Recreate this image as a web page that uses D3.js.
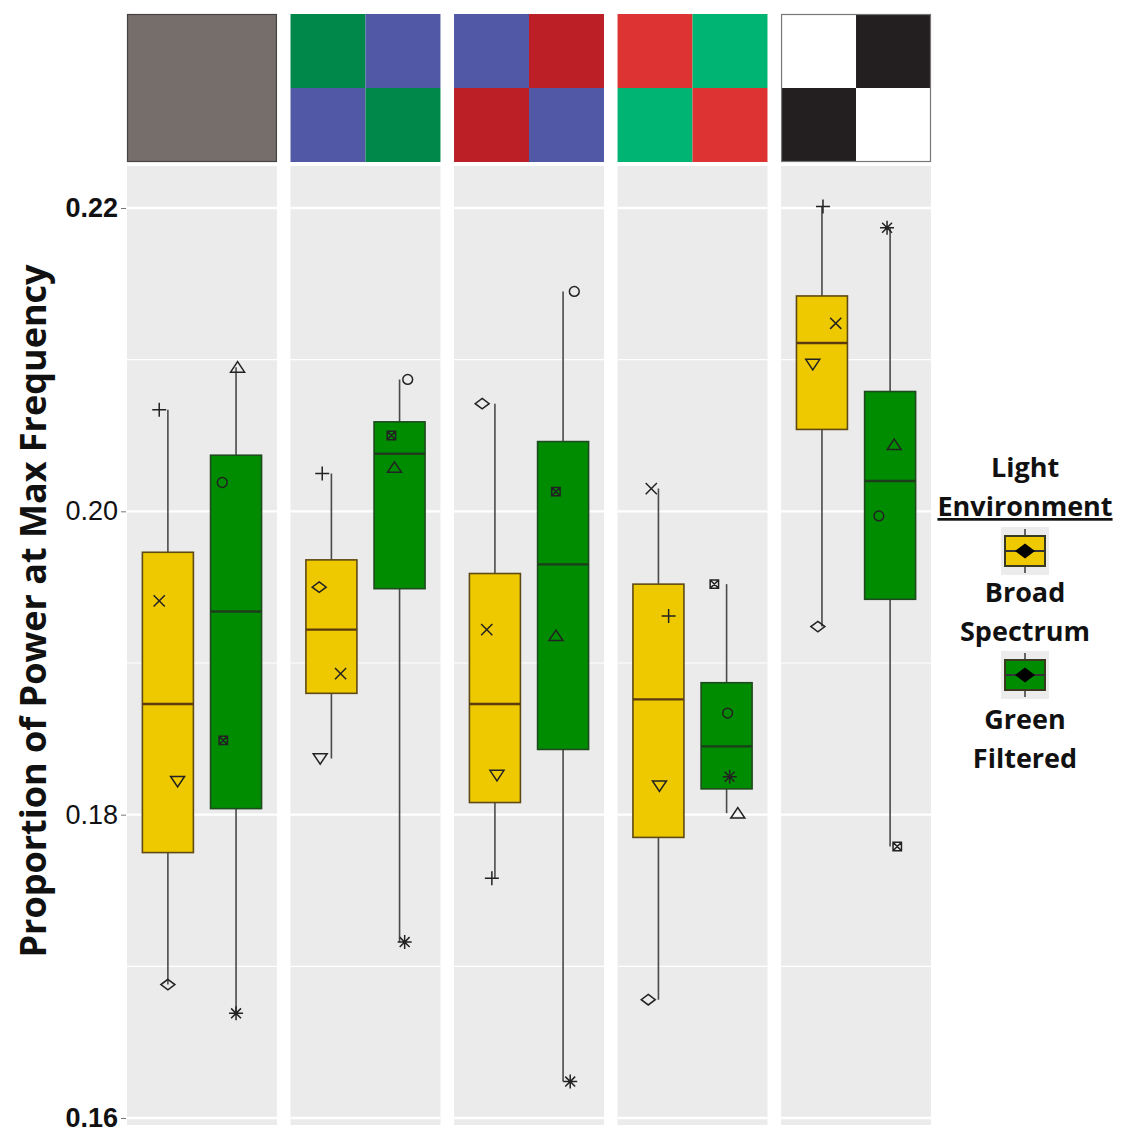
<!DOCTYPE html>
<html>
<head>
<meta charset="utf-8">
<script src="https://cdn.jsdelivr.net/npm/d3@7"></script>
<style>
  body { margin: 0; background: #fff; }
  svg { display: block; font-family: "Open Sans", "Noto Sans", sans-serif; }
</style>
</head>
<body>
<svg id="chart" width="1126" height="1133"></svg>
<script>
// panels (light patterns) and groups
const panels = ['Gray', 'GreenBlue', 'BlueRed', 'RedGreen', 'BlackWhite'];
const groups = ['Broad Spectrum', 'Green Filtered'];

// patch colours shown above each panel: [topLeft, topRight, bottomLeft, bottomRight]
const patchColors = [
  ['#766e6b', '#766e6b', '#766e6b', '#766e6b'],
  ['#00874a', '#5158a6', '#5158a6', '#00874a'],
  ['#5158a6', '#bc1f26', '#bc1f26', '#5158a6'],
  ['#dd3333', '#00b473', '#00b473', '#dd3333'],
  ['#ffffff', '#231f20', '#231f20', '#ffffff']
];

// box stats per panel: [lower whisker, q1, median, q3, upper whisker]
const broadStats = [
  [0.1688, 0.1775, 0.1873, 0.1973, 0.2067],
  [0.1837, 0.1880, 0.1922, 0.1968, 0.2025],
  [0.1758, 0.1808, 0.1873, 0.1959, 0.2071],
  [0.1678, 0.1785, 0.1876, 0.1952, 0.2015],
  [0.1924, 0.2054, 0.2111, 0.2142, 0.2201]
];
const greenStats = [
  [0.1669, 0.1804, 0.1934, 0.2037, 0.2095],
  [0.1716, 0.1949, 0.2038, 0.2059, 0.2087],
  [0.1624, 0.1843, 0.1965, 0.2046, 0.2145],
  [0.1801, 0.1817, 0.1845, 0.1887, 0.1952],
  [0.1779, 0.1942, 0.2020, 0.2079, 0.2187]
];

// individual animals; broad order: plus, cross, triangle-down, diamond
const broadShapes = ['plus', 'cross', 'triDown', 'diamond'];
const broadPoints = [
  [0.2067, 0.1941, 0.1822, 0.1688],
  [0.2025, 0.1893, 0.1837, 0.1950],
  [0.1758, 0.1922, 0.1826, 0.2071],
  [0.1931, 0.2015, 0.1819, 0.1678],
  [0.2201, 0.2124, 0.2097, 0.1924]
];
const broadJitter = [
  [-0.17, -0.17, 0.19, 0.0],
  [-0.18, 0.18, -0.22, -0.24],
  [-0.06, -0.16, 0.04, -0.25],
  [0.2, -0.14, 0.02, -0.2],
  [0.02, 0.27, -0.18, -0.08]
];
// green order: triangle-up, circle, square-cross, asterisk
const greenShapes = ['triUp', 'circle', 'squareX', 'star'];
const greenPoints = [
  [0.2095, 0.2019, 0.1849, 0.1669],
  [0.2029, 0.2087, 0.2050, 0.1716],
  [0.1918, 0.2145, 0.2013, 0.1624],
  [0.1801, 0.1867, 0.1952, 0.1825],
  [0.2044, 0.1997, 0.1779, 0.2187]
];
const greenJitter = [
  [0.03, -0.27, -0.25, 0.0],
  [-0.1, 0.16, -0.16, 0.1],
  [-0.14, 0.22, -0.14, 0.14],
  [0.22, 0.02, -0.24, 0.06],
  [0.08, -0.22, 0.14, -0.06]
];

const yTicks = [0.16, 0.18, 0.20, 0.22];
const yMinor = [0.17, 0.19, 0.21];
const yLabel = 'Proportion of Power at Max Frequency';

const colors = { 'Broad Spectrum': '#efc900', 'Green Filtered': '#008c00' };

const svg = d3.select('#chart');

const plotTop = 166, plotBottom = 1125;
const y = d3.scaleLinear().domain([0.16, 0.22]).range([1118, 208]);

const xPanel = d3.scaleBand().domain(panels).range([127, 931]).paddingInner(0.083);
const xGroup = d3.scalePoint().domain(groups).range([0, xPanel.bandwidth()]).padding(0.6);
const boxW = 51;
const jit = d3.scaleLinear().domain([-1, 1]).range([-boxW, boxW]);

// marker shapes
function shapePath(type, s) {
  const h = s / 2;
  switch (type) {
    case 'plus': return `M${-h},0H${h}M0,${-h}V${h}`;
    case 'cross': return `M${-h*0.8},${-h*0.8}L${h*0.8},${h*0.8}M${-h*0.8},${h*0.8}L${h*0.8},${-h*0.8}`;
    case 'triDown': return `M${-h},${-h*0.7}H${h}L0,${h*0.8}Z`;
    case 'triUp': return `M${-h},${h*0.7}H${h}L0,${-h*0.8}Z`;
    case 'diamond': return `M0,${-h*0.75}L${h},0L0,${h*0.75}L${-h},0Z`;
    case 'circle': return d3.arc()({ innerRadius: 0, outerRadius: h*0.7, startAngle: 0, endAngle: 2*Math.PI });
    case 'squareX': {
      const q = h * 0.6;
      return `M${-q},${-q}H${q}V${q}H${-q}ZM${-q},${-q}L${q},${q}M${-q},${q}L${q},${-q}`;
    }
    case 'star': {
      let p = '';
      for (let i = 0; i < 4; i++) {
        const a = i * Math.PI / 4;
        p += `M${-h*Math.cos(a)},${-h*Math.sin(a)}L${h*Math.cos(a)},${h*Math.sin(a)}`;
      }
      return p;
    }
  }
}

// panel backgrounds + grid
const panelG = svg.selectAll('g.panel')
  .data(panels)
  .enter().append('g')
    .attr('class', 'panel')
    .attr('transform', d => `translate(${xPanel(d)},0)`);

panelG.append('rect')
  .attr('y', plotTop)
  .attr('width', xPanel.bandwidth())
  .attr('height', plotBottom - plotTop)
  .attr('fill', '#ebebeb');

panelG.selectAll('line.minor')
  .data(yMinor)
  .enter().append('line')
    .attr('x2', xPanel.bandwidth())
    .attr('y1', d => y(d)).attr('y2', d => y(d))
    .attr('stroke', '#fff').attr('stroke-width', 1.2);

panelG.selectAll('line.major')
  .data(yTicks)
  .enter().append('line')
    .attr('x2', xPanel.bandwidth())
    .attr('y1', d => y(d)).attr('y2', d => y(d))
    .attr('stroke', '#fff').attr('stroke-width', 2.4);

// colour patches on top
const tileTop = 14, tileH = 148;
panelG.each(function(p, i) {
  const g = d3.select(this);
  const w = xPanel.bandwidth();
  const cells = patchColors[i].map((c, k) => ({ c, col: k % 2, row: Math.floor(k / 2) }));
  g.selectAll('rect.tile')
    .data(cells)
    .enter().append('rect')
      .attr('x', d => d.col * w / 2)
      .attr('y', d => tileTop + d.row * tileH / 2)
      .attr('width', w / 2)
      .attr('height', tileH / 2)
      .attr('fill', d => d.c);
  if (i === 0 || i === 4) {
    g.append('rect')
      .attr('x', 0.5).attr('y', tileTop + 0.5)
      .attr('width', w - 1).attr('height', tileH - 1)
      .attr('fill', 'none')
      .attr('stroke', i === 0 ? '#444' : '#777')
      .attr('stroke-width', 1.2);
  }
});

// boxes
function drawBox(g, stats, grp) {
  const cx = xGroup(grp);
  const [lo, q1, med, q3, hi] = stats;
  g.append('line')
    .attr('x1', cx).attr('x2', cx)
    .attr('y1', y(hi)).attr('y2', y(lo))
    .attr('stroke', '#4a4a4a').attr('stroke-width', 1.6);
  g.append('rect')
    .attr('x', cx - boxW / 2).attr('width', boxW)
    .attr('y', y(q3)).attr('height', y(q1) - y(q3))
    .attr('fill', colors[grp])
    .attr('stroke', grp === groups[0] ? '#5e4a14' : '#1f4a1f')
    .attr('stroke-width', 1.6);
  g.append('line')
    .attr('x1', cx - boxW / 2).attr('x2', cx + boxW / 2)
    .attr('y1', y(med)).attr('y2', y(med))
    .attr('stroke', grp === groups[0] ? '#5a3a10' : '#1d3d1d')
    .attr('stroke-width', 2.4);
}

function drawPoints(g, vals, jitters, shapes, grp) {
  const cx = xGroup(grp);
  g.selectAll(null)
    .data(vals.map((v, k) => ({ v, j: jitters[k], s: shapes[k] })))
    .enter().append('path')
      .attr('transform', d => `translate(${cx + jit(d.j)},${y(d.v)})`)
      .attr('d', d => shapePath(d.s, 14))
      .attr('fill', 'none')
      .attr('stroke', '#222')
      .attr('stroke-width', 1.5);
}

panelG.each(function(p, i) {
  const g = d3.select(this);
  drawBox(g, broadStats[i], groups[0]);
  drawBox(g, greenStats[i], groups[1]);
  drawPoints(g, broadPoints[i], broadJitter[i], broadShapes, groups[0]);
  drawPoints(g, greenPoints[i], greenJitter[i], greenShapes, groups[1]);
});

// y axis
const yAxis = d3.axisLeft(y)
  .tickValues(yTicks)
  .tickFormat(d3.format('.2f'))
  .tickSize(5)
  .tickPadding(3);

const axisG = svg.append('g')
  .attr('transform', 'translate(126,0)')
  .call(yAxis);
axisG.select('.domain').remove();
axisG.selectAll('.tick line').attr('stroke', '#777');
axisG.selectAll('.tick text')
  .attr('fill', '#111')
  .style('font-size', '27px')
  .style('font-weight', d => (d === 0.22 || d === 0.16) ? 700 : 400);

svg.append('text')
  .attr('transform', `translate(46,611) rotate(-90)`)
  .attr('text-anchor', 'middle')
  .style('font-size', '36px')
  .style('font-weight', 700)
  .attr('fill', '#111')
  .text(yLabel);

// legend
const legend = svg.append('g').attr('transform', 'translate(1025,0)');
const lt = (txt, yy, underline) => legend.append('text')
  .attr('y', yy)
  .attr('text-anchor', 'middle')
  .style('font-size', '27px')
  .style('font-weight', 700)
  .style('text-decoration', underline ? 'underline' : null)
  .attr('fill', '#111')
  .text(txt);

lt('Light', 477, false);
lt('Environment', 516, true);
lt('Broad', 602, false);
lt('Spectrum', 641, false);
lt('Green', 729, false);
lt('Filtered', 768, false);

const keyY = { 'Broad Spectrum': 551, 'Green Filtered': 675 };
groups.forEach(grp => {
  const k = legend.append('g').attr('transform', `translate(0,${keyY[grp]})`);
  k.append('rect').attr('x', -24).attr('y', -24).attr('width', 48).attr('height', 48).attr('fill', '#ececec');
  k.append('line').attr('y1', -22).attr('y2', 22).attr('stroke', '#444').attr('stroke-width', 1.6);
  k.append('rect').attr('x', -20).attr('y', -15).attr('width', 40).attr('height', 30)
    .attr('fill', colors[grp]).attr('stroke', '#3a3a20').attr('stroke-width', 2);
  k.append('line').attr('x1', -20).attr('x2', 20).attr('stroke', '#333').attr('stroke-width', 2);
  k.append('path').attr('d', shapePath('diamond', 20)).attr('fill', '#000');
});
</script>
</body>
</html>
